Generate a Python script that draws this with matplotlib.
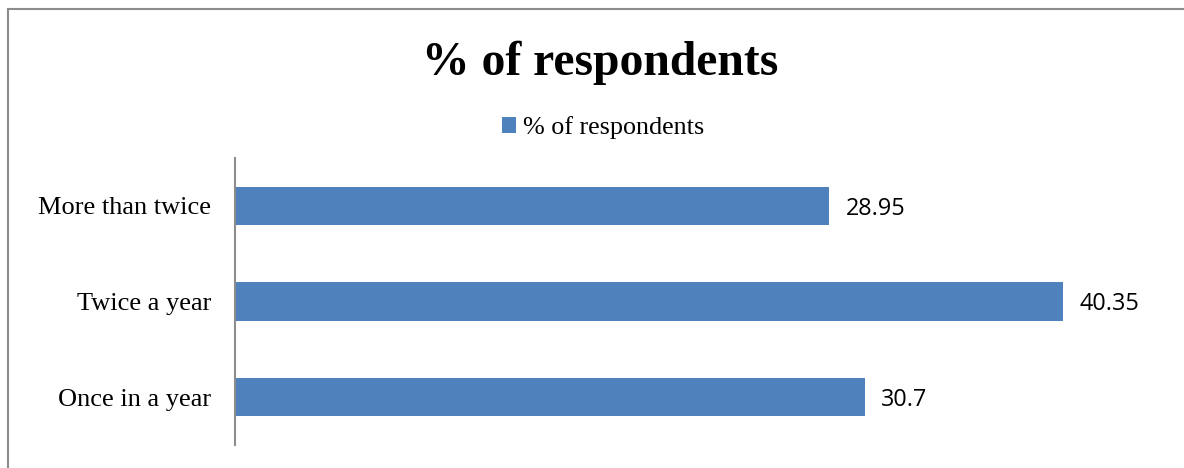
import matplotlib
matplotlib.use("Agg")
import matplotlib.pyplot as plt
from matplotlib.lines import Line2D

categories = ["Once in a year", "Twice a year", "More than twice"]
values = [30.7, 40.35, 28.95]
value_labels = ["30.7", "40.35", "28.95"]
series_name = "% of respondents"
title = "% of respondents"

W, H = 1184, 468
fig = plt.figure(figsize=(W / 100, H / 100), dpi=100)
ax = fig.add_axes([235 / W, 23 / H, 923 / W, 287 / H])

blue = "#4F81BD"
ypos = list(range(len(categories)))
bars = ax.barh(ypos, values, height=0.4, color=blue, label=series_name)
ax.set_xlim(0, 45)
ax.set_ylim(-0.5, len(categories) - 0.5)
ax.set_yticks(ypos)
ax.set_yticklabels(categories, family="Liberation Serif", fontsize=19)
ax.tick_params(axis="y", length=0, pad=17)
ax.set_xticks([])
for s in ["top", "right", "bottom"]:
    ax.spines[s].set_visible(False)
ax.spines["left"].set_color("#8C8C8C")
ax.spines["left"].set_linewidth(1.5)

for b, lab in zip(bars, value_labels):
    ax.annotate(lab, (b.get_width(), b.get_y() + b.get_height() / 2),
                xytext=(12, -2), textcoords="offset points", va="center", ha="left",
                family="Open Sans", fontsize=16.8, color="#000000")

fig.text(600 / W, 1 - 63 / H, title, ha="center", va="center",
         family="Liberation Serif", fontweight="bold", fontsize=34.3)

leg = fig.legend(handles=[bars], labels=[series_name], loc="center",
                 bbox_to_anchor=(603 / W, 1 - 128 / H), frameon=False,
                 prop={"family": "Liberation Serif", "size": 18.8},
                 handlelength=0.55, handleheight=0.55, handletextpad=0.25)

# chart frame (left and top edges visible)
fig.add_artist(Line2D([7.5 / W, 7.5 / W], [0, 1 - 9 / H], transform=fig.transFigure,
                      color="#8C8C8C", lw=1.5))
fig.add_artist(Line2D([7.5 / W, 1], [1 - 9 / H, 1 - 9 / H], transform=fig.transFigure,
                      color="#8C8C8C", lw=1.5))

fig.savefig("out.png", dpi=100)
